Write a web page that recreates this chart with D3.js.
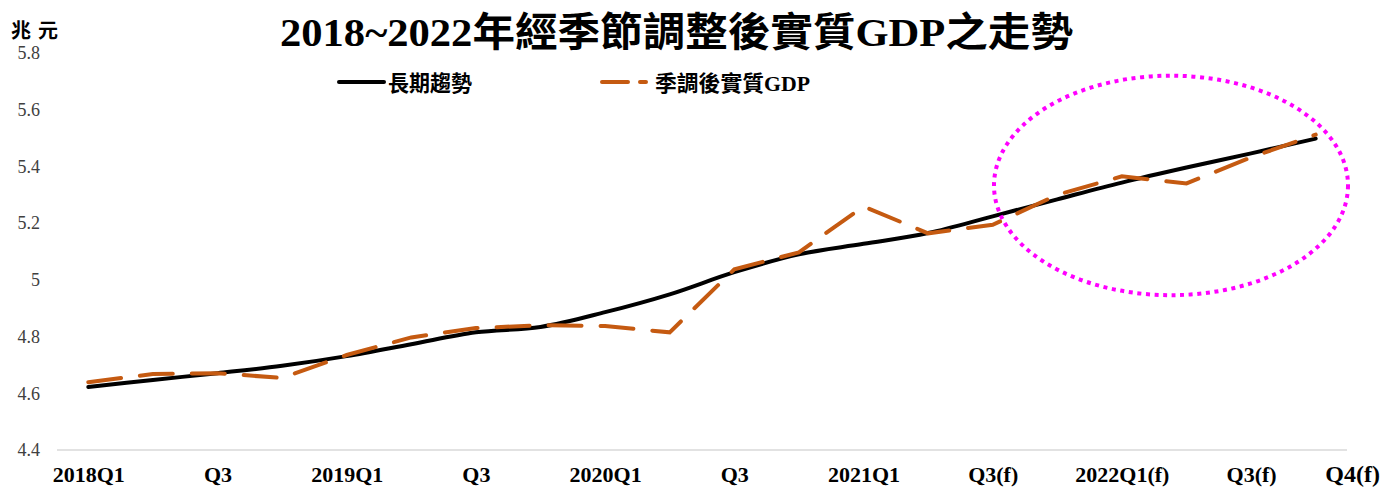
<!DOCTYPE html>
<html>
<head>
<meta charset="utf-8">
<script src="https://cdn.jsdelivr.net/npm/d3@7"></script>
<style>
	body { margin: 0; background: #fff; }
	svg { display: block; }
</style>
</head>
<body>
<svg id="chart" width="1387" height="490"></svg>
<script>
var quarters = ["2018Q1","2018Q2","2018Q3","2018Q4","2019Q1","2019Q2","2019Q3","2019Q4",
	"2020Q1","2020Q2","2020Q3","2020Q4","2021Q1","2021Q2","2021Q3","2021Q4",
	"2022Q1","2022Q2","2022Q3","2022Q4"];
var tickLabels = ["2018Q1","Q3","2019Q1","Q3","2020Q1","Q3","2021Q1","Q3(f)","2022Q1(f)","Q3(f)"];
var lastLabel = "Q4(f)";
var trend = [4.622, 4.647, 4.671, 4.697, 4.731, 4.773, 4.815, 4.834, 4.886, 4.949,
	5.027, 5.090, 5.127, 5.165, 5.224, 5.284, 5.343, 5.396, 5.446, 5.498];
var gdp = [4.639, 4.668, 4.671, 4.654, 4.735, 4.797, 4.830, 4.840, 4.837, 4.815,
	5.037, 5.097, 5.259, 5.164, 5.194, 5.300, 5.365, 5.340, 5.432, 5.512];
var yTicks = [4.4, 4.6, 4.8, 5, 5.2, 5.4, 5.6, 5.8];
var seriesNames = ["長期趨勢", "季調後實質GDP"];
var titleText = "2018~2022年經季節調整後實質GDP之走勢";
var unitText = "兆元";
// highlighted forecast region: center (quarter index, value) and radii
var highlight = { ci: 16.76, cv: 5.333, ri: 2.74, rv: 0.387 };

var latin = "'Liberation Serif', 'Times New Roman', 'Noto Sans CJK TC', serif";
var orange = "#c55a11";

var svg = d3.select("#chart");

var xscale = d3.scalePoint().domain(quarters).range([56, 1348]).padding(0.5);
var yscale = d3.scaleLinear().domain([4.4, 5.8]).range([450, 53]);
var step = xscale.step();

function xAt(i) {
	return xscale(quarters[0]) + i * step;
}

// baseline gridline
svg.append("line")
	.attr("x1", xscale.range()[0] + 1)
	.attr("x2", xscale.range()[1] - 1)
	.attr("y1", yscale(4.4))
	.attr("y2", yscale(4.4))
	.attr("stroke", "#d9d9d9")
	.attr("stroke-width", 1.5);

// y axis
var yAxis = svg.append("g")
	.attr("transform", "translate(" + xscale.range()[0] + ",0)")
	.call(d3.axisLeft(yscale).tickValues(yTicks).tickSize(0).tickPadding(16).tickFormat(d3.format("~g")));
yAxis.select(".domain").remove();
yAxis.selectAll("text")
	.attr("font-family", latin)
	.attr("font-size", 18)
	.attr("fill", "#404040");

// x axis
var tickQuarters = quarters.filter(function(d,i){ return i % 2 === 0; });
var xAxis = svg.append("g")
	.attr("transform", "translate(0," + yscale(4.4) + ")")
	.call(d3.axisBottom(xscale).tickValues(tickQuarters).tickSize(0).tickPadding(16)
		.tickFormat(function(d,i){ return tickLabels[i]; }));
xAxis.select(".domain").remove();
xAxis.selectAll("text")
	.attr("font-family", latin)
	.attr("font-size", 22)
	.attr("font-weight", "bold")
	.attr("fill", "#000");

svg.append("text")
	.attr("x", xscale(quarters[quarters.length-1]) + 37)
	.attr("y", 482)
	.attr("text-anchor", "middle")
	.attr("font-family", latin)
	.attr("font-size", 24)
	.attr("font-weight", "bold")
	.text(lastLabel);

// lines
var trendLine = d3.line()
	.x(function(d,i){ return xscale(quarters[i]); })
	.y(function(d){ return yscale(d); })
	.curve(d3.curveCatmullRom.alpha(0.5));

var gdpLine = d3.line()
	.x(function(d,i){ return xscale(quarters[i]); })
	.y(function(d){ return yscale(d); });

svg.append("path")
	.datum(trend)
	.attr("d", trendLine)
	.attr("fill", "none")
	.attr("stroke", "#000")
	.attr("stroke-width", 4)
	.attr("stroke-linecap", "round");

svg.append("path")
	.datum(gdp)
	.attr("d", gdpLine)
	.attr("fill", "none")
	.attr("stroke", orange)
	.attr("stroke-width", 4)
	.attr("stroke-linecap", "round")
	.attr("stroke-dasharray", "33,19");

// highlight ellipse
svg.append("ellipse")
	.attr("cx", xAt(highlight.ci))
	.attr("cy", yscale(highlight.cv))
	.attr("rx", highlight.ri * step)
	.attr("ry", yscale(4.4) - yscale(4.4 + highlight.rv))
	.attr("fill", "none")
	.attr("stroke", "#ff00ff")
	.attr("stroke-width", 4)
	.attr("stroke-dasharray", "4,4.6");

// legend
var legend = svg.append("g").attr("class", "legend");
legend.append("line")
	.attr("x1", 339).attr("x2", 384).attr("y1", 82).attr("y2", 82)
	.attr("stroke", "#000").attr("stroke-width", 4).attr("stroke-linecap", "round");
legend.append("text")
	.attr("x", 388).attr("y", 91)
	.attr("font-family", latin).attr("font-size", 22).attr("font-weight", "bold")
	.attr("textLength", 84).attr("lengthAdjust", "spacingAndGlyphs")
	.text(seriesNames[0]);
legend.append("line")
	.attr("x1", 602).attr("x2", 646).attr("y1", 82).attr("y2", 82)
	.attr("stroke", orange).attr("stroke-width", 4).attr("stroke-linecap", "round")
	.attr("stroke-dasharray", "26,12");
legend.append("text")
	.attr("x", 655).attr("y", 91)
	.attr("font-family", latin).attr("font-size", 22).attr("font-weight", "bold")
	.attr("textLength", 155).attr("lengthAdjust", "spacingAndGlyphs")
	.text(seriesNames[1]);

// title and unit
svg.append("text")
	.attr("x", 280).attr("y", 46)
	.attr("font-family", latin).attr("font-size", 40).attr("font-weight", "bold")
	.attr("textLength", 793).attr("lengthAdjust", "spacingAndGlyphs")
	.text(titleText);

svg.append("text")
	.attr("x", 11).attr("y", 38)
	.attr("font-family", latin).attr("font-size", 20).attr("font-weight", "bold")
	.attr("textLength", 47).attr("lengthAdjust", "spacing")
	.text(unitText);
</script>
</body>
</html>
